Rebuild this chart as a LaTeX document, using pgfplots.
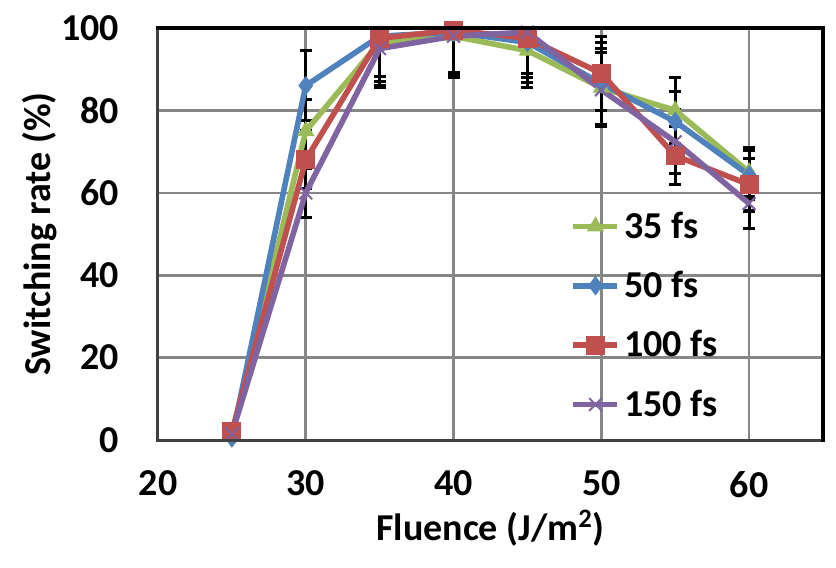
\documentclass[border=0pt]{standalone}
\usepackage{pgfplots}
\pgfplotsset{compat=1.18}
\usepackage{fontspec}
\setmainfont{Carlito}
\definecolor{cgreen}{HTML}{9BBB59}
\definecolor{cblue}{HTML}{4F81BD}
\definecolor{cred}{HTML}{C0504D}
\definecolor{cpurple}{HTML}{8064A2}
\definecolor{cgrid}{HTML}{868686}
\pgfplotsset{
  errplot/.style={forget plot, only marks, mark=*, mark size=0.01pt,
    error bars/.cd, y dir=both, y explicit, error mark=-,
    error bar style={draw=black, line width=1.6pt},
    error mark options={rotate=90, draw=black, line width=1.6pt, mark size=3pt}},
  ser/.style={line width=2.8pt, mark size=4.5pt}
}
\begin{document}
\begin{tikzpicture}
\begin{axis}[
  scale only axis,
  width=332.5pt, height=206pt,
  xmin=20, xmax=65, ymin=0, ymax=100,
  xtick={20,30,40,50,60}, ytick={0,20,40,60,80,100},
  major tick length=0pt,
  grid=major,
  major grid style={draw=cgrid, line width=1.3pt},
  axis line style={draw=none},
  clip=false,
  /pgf/number format/assume math mode=true,
  tick label style={font=\fontsize{19}{22}\selectfont\bfseries},
  xticklabel style={yshift=-12pt},
  yticklabel style={xshift=-16pt},
  xlabel={Fluence (J/m\textsuperscript{2})},
  ylabel={Switching rate (\%)},
  label style={font=\fontsize{19}{23}\selectfont\bfseries},
  x label style={at={(rel axis cs:0.5,0)}, anchor=center, yshift=-44pt},
  y label style={at={(rel axis cs:0,0.5)}, anchor=center, yshift=59pt},
  legend style={draw=none, fill=none, at={(rel axis cs:0.62,0.565)}, anchor=north west,
    font=\fontsize{19}{22}\selectfont\bfseries, row sep=11pt,
    inner sep=0pt, nodes={inner sep=2pt}},
  legend cell align=left,
  legend image code/.code={\draw[mark repeat=2,mark phase=2] plot coordinates {(0pt,0pt) (11pt,0pt) (22pt,0pt)};},
]
% error bars
\addplot[errplot]
  coordinates {(30,75) +- (0,7.6) (35,96.5) += (0,3.5) -= (0,10.5) (40,98) += (0,2) -= (0,10) (45,94.5) += (0,5.5) -= (0,8.9) (50,85.5) +- (0,9.5) (55,80) +- (0,8) (60,65) +- (0,6)};
\addplot[errplot]
  coordinates {(30,86) +- (0,8.5) (35,98) += (0,2) -= (0,9.7) (40,99) += (0,1) -= (0,10.8) (45,96.5) += (0,3.5) -= (0,9.7) (50,86.5) +- (0,10) (55,77.3) +- (0,7.3) (60,64.3) +- (0,6)};
\addplot[errplot]
  coordinates {(30,68) +- (0,7) (35,97.5) += (0,2.5) -= (0,10.4) (40,99.5) += (0,0.5) -= (0,10.3) (45,97.5) += (0,2.5) -= (0,9.5) (50,89) +- (0,9) (55,69) +- (0,7) (60,62) +- (0,6.4)};
\addplot[errplot]
  coordinates {(30,60) +- (0,6) (35,95) += (0,5) -= (0,9.5) (40,98) += (0,2) -= (0,9) (45,99) += (0,1) -= (0,10) (50,85) +- (0,9) (55,72.4) +- (0,7.7) (60,57.4) +- (0,6)};
% series
\addplot[ser, color=cgreen, mark=triangle*, mark options={solid, line width=0.5pt}]
  coordinates {(25,1) (30,75) (35,96.5) (40,98) (45,94.5) (50,85.5) (55,80) (60,65)};
\addlegendentry{35 fs}
\addplot[ser, color=cblue, mark=diamond*, mark options={solid, line width=0.5pt}]
  coordinates {(25,0.5) (30,86) (35,98) (40,99) (45,96.5) (50,86.5) (55,77.3) (60,64.3)};
\addlegendentry{50 fs}
\addplot[ser, color=cred, mark=square*, mark options={solid, line width=0.5pt}]
  coordinates {(25,2) (30,68) (35,97.5) (40,99.5) (45,97.5) (50,89) (55,69) (60,62)};
\addlegendentry{100 fs}
\addplot[ser, color=cpurple, mark=x, mark options={solid, line width=1pt}]
  coordinates {(25,1.5) (30,60) (35,95) (40,98) (45,99) (50,85) (55,72.4) (60,57.4)};
\addlegendentry{150 fs}
\end{axis}
\draw[black!75, line width=1.5pt] (current axis.north west) -- (current axis.south west) -- (current axis.south east);
\draw[black, line width=2pt, line cap=rect] (current axis.north west) -- (current axis.north east) -- (current axis.south east);
\path (current axis.south west) ++(-79pt,-64pt) rectangle ++(418pt,284pt);
\end{tikzpicture}
\end{document}
